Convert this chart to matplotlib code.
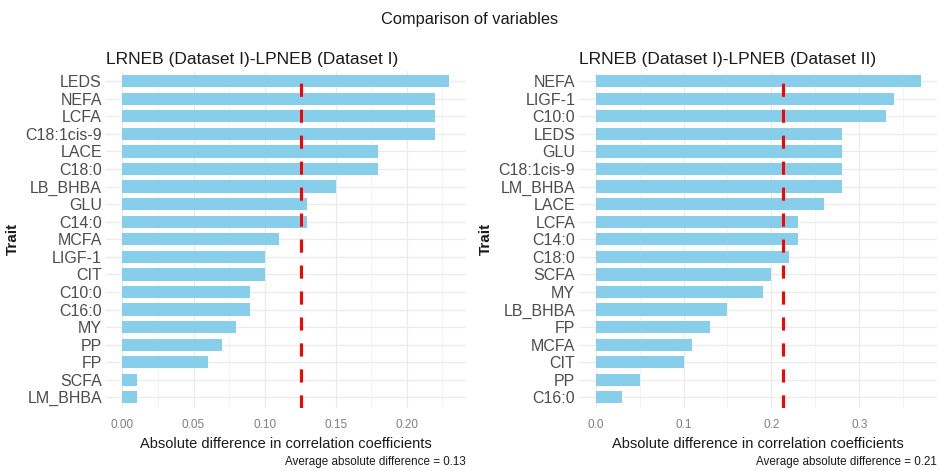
import numpy as np
import matplotlib.pyplot as plt
from matplotlib.ticker import MultipleLocator

plt.rcParams['font.family'] = ['Liberation Sans', 'DejaVu Sans']

# Dataset I vs Dataset I
traits_1 = ["LEDS", "NEFA", "LCFA", "C18:1cis-9", "LACE", "C18:0", "LB_BHBA", "GLU",
            "C14:0", "MCFA", "LIGF-1", "CIT", "C10:0", "C16:0", "MY", "PP", "FP",
            "SCFA", "LM_BHBA"]
diff_1 = [0.23, 0.22, 0.22, 0.22, 0.18, 0.18, 0.15, 0.13, 0.13, 0.11, 0.10, 0.10,
          0.09, 0.09, 0.08, 0.07, 0.06, 0.01, 0.01]

# Dataset I vs Dataset II
traits_2 = ["NEFA", "LIGF-1", "C10:0", "LEDS", "GLU", "C18:1cis-9", "LM_BHBA", "LACE",
            "LCFA", "C14:0", "C18:0", "SCFA", "MY", "LB_BHBA", "FP", "MCFA", "CIT",
            "PP", "C16:0"]
diff_2 = [0.37, 0.34, 0.33, 0.28, 0.28, 0.28, 0.28, 0.26, 0.23, 0.23, 0.22, 0.20,
          0.19, 0.15, 0.13, 0.11, 0.10, 0.05, 0.03]

titles = ["LRNEB (Dataset I)-LPNEB (Dataset I)", "LRNEB (Dataset I)-LPNEB (Dataset II)"]
major_steps = [0.05, 0.1]
tick_fmt = ["{:.2f}", "{:.1f}"]

fig = plt.figure(figsize=(9.39, 4.71), dpi=100)
positions = [[0.113, 0.134, 0.383, 0.716], [0.617, 0.134, 0.381, 0.716]]

for pos, traits, vals, title, step, fmt in zip(positions, [traits_1, traits_2],
                                               [diff_1, diff_2], titles, major_steps, tick_fmt):
    ax = fig.add_axes(pos)
    vals = np.array(vals)
    y = np.arange(len(traits))[::-1]
    ax.barh(y, vals, height=0.7, color="#87CEEB", zorder=2)
    avg = vals.mean()
    ax.axvline(avg, color="red", linestyle=(0, (4.3, 4.2)), linewidth=2.2,
               dash_capstyle="butt", zorder=3)

    lo, hi = 0, vals.max()
    pad = 0.05 * (hi - lo)
    ax.set_xlim(lo - pad, hi + pad)
    ax.set_ylim(-0.6, len(traits) - 0.4)
    ax.set_yticks(y)
    ax.set_yticklabels(traits, fontsize=11.5, color="#4D4D4D")
    ax.xaxis.set_major_locator(MultipleLocator(step))
    ax.xaxis.set_minor_locator(MultipleLocator(step / 2))
    ticks = [t for t in np.arange(0, hi + 1e-9, step)]
    ax.set_xticks(ticks)
    ax.set_xticklabels([fmt.format(t) for t in ticks], fontsize=8.5, color="#7F7F7F")
    ax.tick_params(which="both", length=0)
    ax.tick_params(axis="x", pad=8)
    ax.tick_params(axis="y", pad=3)

    ax.grid(True, which="major", color="#EBEBEB", linewidth=0.9, zorder=0)
    ax.grid(True, which="minor", axis="x", color="#F3F3F3", linewidth=0.6, zorder=0)
    ax.set_axisbelow(True)
    for s in ax.spines.values():
        s.set_visible(False)

    ax.set_xlabel("Absolute difference in correlation coefficients", fontsize=10.5,
                  color="#1A1A1A", labelpad=4)
    ax.set_ylabel("Trait", fontsize=11, fontweight="bold", color="#1A1A1A", labelpad=4)
    ax.set_title(title, fontsize=12.5, loc="left", pad=5, color="#1A1A1A")
    ax.text(1.0, -0.16, "Average absolute difference = {:.2f}".format(avg),
            transform=ax.transAxes, ha="right", va="center", fontsize=8.4, color="#1A1A1A")

fig.suptitle("Comparison of variables", fontsize=11.8, y=0.975, color="#1A1A1A")
fig.savefig("out.png", dpi=100, facecolor="white")
